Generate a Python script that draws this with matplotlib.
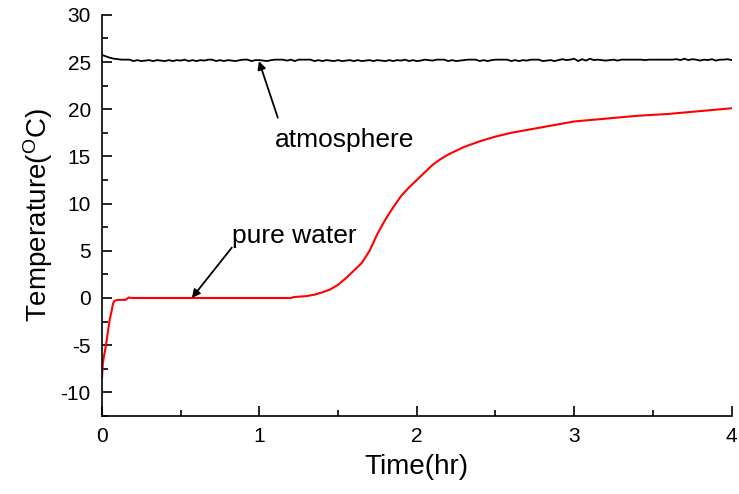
import matplotlib.pyplot as plt
import numpy as np
from matplotlib.ticker import MultipleLocator

plt.rcParams['font.family'] = ['Liberation Sans', 'DejaVu Sans']
plt.rcParams['axes.unicode_minus'] = False

# atmosphere, sampled every 0.025 hr from 0 to 4
atm_step = 0.025
atm_temp = [
    25.75, 25.6, 25.45, 25.35, 25.3, 25.25, 25.25, 25.25, 25.1, 25.2, 25.1, 25.15, 25.2, 25.1, 25.2, 25.15, 25.1, 25.2, 25.1, 25.2,
    25.15, 25.25, 25.1, 25.2, 25.1, 25.2, 25.15, 25.25, 25.25, 25.1, 25.2, 25.1, 25.2, 25.15, 25.1, 25.2, 25.25, 25.25, 25.1, 25.2,
    25.2, 25.15, 25.1, 25.2, 25.25, 25.25, 25.25, 25.15, 25.25, 25.1, 25.25, 25.25, 25.25, 25.25, 25.1, 25.2, 25.1, 25.2, 25.15, 25.1,
    25.2, 25.1, 25.15, 25.2, 25.1, 25.2, 25.1, 25.15, 25.2, 25.1, 25.2, 25.15, 25.1, 25.2, 25.1, 25.2, 25.15, 25.25, 25.1, 25.2,
    25.1, 25.15, 25.25, 25.2, 25.15, 25.25, 25.25, 25.25, 25.1, 25.2, 25.1, 25.15, 25.2, 25.25, 25.25, 25.25, 25.1, 25.2, 25.1, 25.2,
    25.25, 25.25, 25.25, 25.25, 25.1, 25.2, 25.1, 25.2, 25.15, 25.25, 25.25, 25.25, 25.1, 25.15, 25.2, 25.1, 25.2, 25.3, 25.2, 25.25,
    25.35, 25.1, 25.3, 25.15, 25.35, 25.2, 25.25, 25.2, 25.15, 25.2, 25.25, 25.15, 25.25, 25.25, 25.25, 25.25, 25.25, 25.25, 25.2, 25.25,
    25.25, 25.25, 25.25, 25.25, 25.25, 25.25, 25.3, 25.2, 25.35, 25.2, 25.3, 25.25, 25.15, 25.25, 25.2, 25.3, 25.15, 25.25, 25.25, 25.3,
    25.2,
]
atm_time = np.arange(len(atm_temp)) * atm_step

# pure water
water_time = [0, 0.005, 0.012, 0.02, 0.03, 0.04, 0.05, 0.06, 0.07, 0.08, 0.1, 0.15, 0.17, 0.19,
              0.5, 1.0, 1.2, 1.22, 1.3, 1.35, 1.4, 1.45, 1.5, 1.55, 1.6, 1.65, 1.7, 1.75, 1.8,
              1.85, 1.9, 1.95, 2.0, 2.05, 2.1, 2.15, 2.2, 2.25, 2.3, 2.4, 2.5, 2.6, 2.7, 2.8,
              2.9, 3.0, 3.2, 3.4, 3.6, 3.8, 4.0]
water_temp = [-8.5, -7.0, -6.2, -5.5, -4.5, -3.3, -2.2, -1.5, -0.6, -0.3, -0.2, -0.2, 0.05, 0.0,
              0.0, 0.0, 0.0, 0.1, 0.2, 0.35, 0.6, 0.9, 1.4, 2.1, 2.9, 3.7, 5.0, 6.8, 8.3,
              9.6, 10.8, 11.7, 12.5, 13.3, 14.1, 14.7, 15.2, 15.6, 16.0, 16.6, 17.1, 17.5, 17.8, 18.1,
              18.4, 18.7, 19.0, 19.3, 19.5, 19.8, 20.1]

fig = plt.figure(figsize=(7.39, 4.94), dpi=100)
ax = fig.add_axes([0.138, 0.158, 0.852, 0.812])

ax.plot(atm_time, atm_temp, color='black', lw=1.3)
ax.plot(water_time, water_temp, color='red', lw=1.5)

ax.set_xlim(0, 4)
ax.set_ylim(-12.5, 30)
ax.xaxis.set_major_locator(MultipleLocator(1))
ax.xaxis.set_minor_locator(MultipleLocator(0.5))
ax.yaxis.set_major_locator(MultipleLocator(5))
ax.yaxis.set_minor_locator(MultipleLocator(2.5))
ax.tick_params(which='both', direction='in', width=1.2, labelsize=15)
ax.tick_params(which='major', length=7, pad=8)
ax.tick_params(which='minor', length=4)

for s in ['top', 'right']:
    ax.spines[s].set_visible(False)
for s in ['left', 'bottom']:
    ax.spines[s].set_linewidth(1.2)

ax.set_xlabel('Time(hr)', fontsize=20, labelpad=6)
ax.set_ylabel('Temperature($\\mathregular{^{O}}$C)', fontsize=20, labelpad=4)

# labels and arrows
ax.text(1.098, 16.0, 'atmosphere', fontsize=19, ha='left', va='baseline')
ax.annotate('', xy=(0.997, 25.1), xytext=(1.117, 19.1),
            arrowprops=dict(arrowstyle='-|>', color='black', lw=1.3,
                            shrinkA=0, shrinkB=0, mutation_scale=12))
ax.text(0.825, 5.87, 'pure water', fontsize=19, ha='left', va='baseline')
ax.annotate('', xy=(0.571, 0.0), xytext=(0.825, 5.34),
            arrowprops=dict(arrowstyle='-|>', color='black', lw=1.3,
                            shrinkA=0, shrinkB=0, mutation_scale=12))

fig.savefig('out.png', dpi=100)
